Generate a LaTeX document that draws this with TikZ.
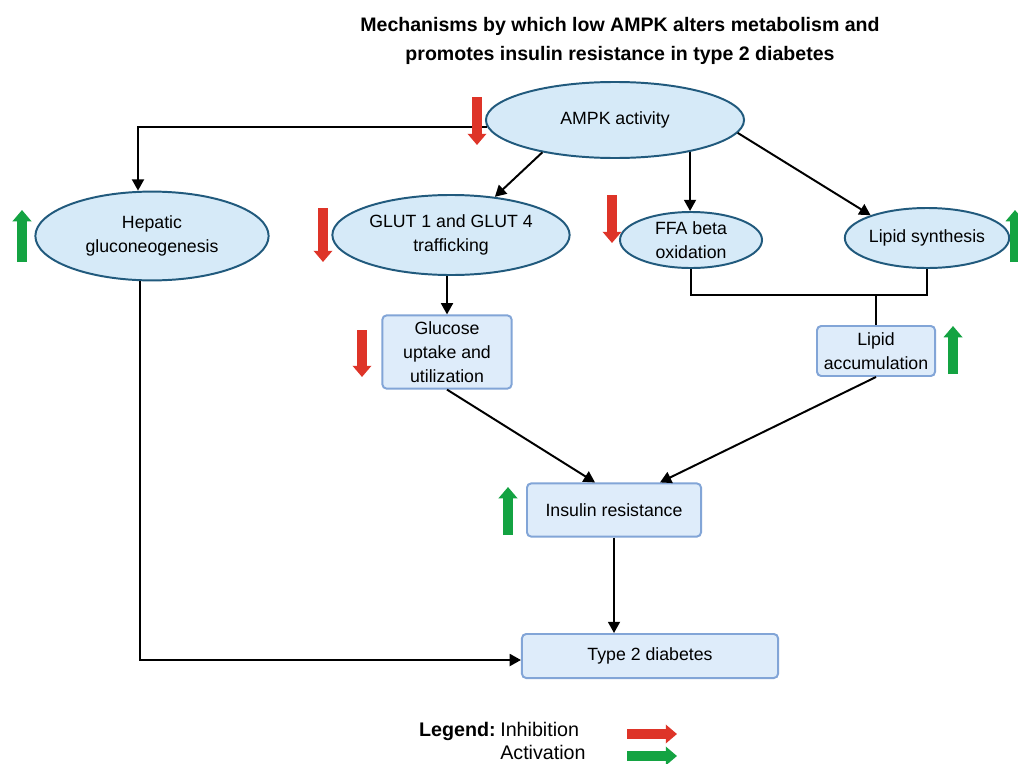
\documentclass[tikz,border=0pt]{standalone}
\usepackage{fontspec}
\setmainfont{Liberation Sans}
\usepackage{xcolor}
\usetikzlibrary{shapes,arrows,positioning,calc,arrows.meta}

\definecolor{ellfill}{RGB}{214,234,248}
\definecolor{elldraw}{RGB}{33,90,125}
\definecolor{boxfill}{RGB}{222,236,250}
\definecolor{boxdraw}{RGB}{130,165,215}
\definecolor{inhred}{RGB}{222,52,40}
\definecolor{actgreen}{RGB}{20,163,66}

\tikzset{
    proc/.style={ellipse, draw=elldraw, fill=ellfill, line width=1.4pt, inner sep=0pt, align=center},
    res/.style={rectangle, rounded corners=3pt, draw=boxdraw, fill=boxfill, line width=1.4pt, inner sep=0pt, align=center},
    link/.style={line width=1.4pt, -{Triangle[width=8.5pt,length=8pt]}},
    inh/.style={draw=inhred, line width=6.5pt, -{Triangle[width=13pt,length=8pt]}},
    act/.style={draw=actgreen, line width=6.5pt, -{Triangle[width=13pt,length=8pt]}}
}

\begin{document}
\begin{tikzpicture}[x=0.025cm,y=-0.025cm,font=\fontsize{12.6}{17}\selectfont]
    \useasboundingbox[fill=white] (0,0) rectangle (1018,763);

    % Title
    \node[font=\fontsize{13.9}{20}\selectfont\bfseries, align=center] (title) at (620,41)
        {Mechanisms by which low AMPK alters metabolism and\\promotes insulin resistance in type 2 diabetes};

    % Ellipses
    \node[proc, minimum width=6.45cm, minimum height=1.9cm] (ampk) at (615,120) {AMPK activity};
    \node[proc, minimum width=5.83cm, minimum height=2.22cm] (hepatic) at (152,236) {Hepatic\\gluconeogenesis};
    \node[proc, minimum width=5.93cm, minimum height=2.0cm] (glut) at (451,235) {GLUT 1 and GLUT 4\\trafficking};
    \node[proc, minimum width=3.55cm, minimum height=1.4cm] (ffa) at (691,240) {FFA beta\\oxidation};
    \node[proc, minimum width=3.53cm, minimum height=1.5cm] (lipsyn) at (927,238) {Lipid synthesis};

    % Boxes
    \node[res, minimum width=3.23cm, minimum height=1.83cm] (glucose) at (447,352) {Glucose\\uptake and\\utilization};
    \node[res, minimum width=2.95cm, minimum height=1.25cm] (lipacc) at (876,351) {Lipid\\accumulation};
    \node[res, minimum width=4.35cm, minimum height=1.33cm] (insulin) at (614,510) {Insulin resistance};
    \node[res, minimum width=6.4cm, minimum height=1.1cm] (diabetes) at (650,656) {Type 2 diabetes};

    % Connectors
    \draw[link] (ampk.183) -| ([xshift=-0.35cm]hepatic.north);
    \draw[link] (ampk.204) -- (glut.41);
    \draw[link] (ampk.337) -- (ampk.337 |- ffa.north);
    \draw[link] (ampk.354) -- (lipsyn.158);
    \draw[link] (glucose.north |- glut.south) -- (glucose.north);
    \draw[line width=1.4pt] (ffa.south) -- ++(0,26) coordinate (brl) -| (lipsyn.south);
    \draw[line width=1.4pt] (brl -| lipacc.north) -- (lipacc.north);
    \draw[link] (glucose.south) -- ([xshift=-0.475cm]insulin.north);
    \draw[link] (lipacc.south) -- ([xshift=1.15cm]insulin.north);
    \draw[link] (insulin.south) -- (insulin.south |- diabetes.north);
    \draw[link] ([xshift=-0.3cm]hepatic.south) |- ([yshift=-0.1cm]diabetes.west);

    % Up / down markers
    \draw[inh] (477,97) -- (477,145);
    \draw[act] (22,262) -- (22,210);
    \draw[inh] (323,208) -- (323,262);
    \draw[inh] (612,195) -- (612,243);
    \draw[act] (1015,262) -- (1015,210);
    \draw[inh] (362,330) -- (362,377);
    \draw[act] (953,374) -- (953,326);
    \draw[act] (508,535) -- (508,487);

    % Legend
    \node[anchor=west, inner sep=0pt, font=\fontsize{14}{17}\selectfont] (inhtxt) at (500,729) {Inhibition};
    \node[anchor=base east, inner sep=0pt, font=\fontsize{14}{17}\selectfont\bfseries] (legtxt) at ([xshift=-0.1cm]inhtxt.base west) {Legend:};
    \node[anchor=west, inner sep=0pt, font=\fontsize{14}{17}\selectfont] (acttxt) at (500,752) {Activation};
    \draw[inh] (627,734) -- (677,734);
    \draw[act] (627,756) -- (677,756);
\end{tikzpicture}
\end{document}
